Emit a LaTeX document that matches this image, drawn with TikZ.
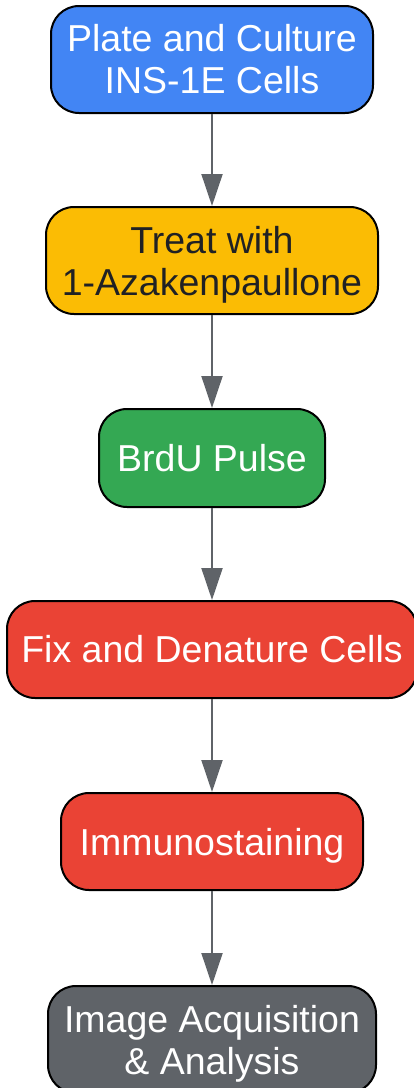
\documentclass[tikz,border=0pt]{standalone}
\usepackage{fontspec}
\setmainfont{Liberation Sans}
\usetikzlibrary{arrows.meta}
\definecolor{gblue}{HTML}{4285F4}
\definecolor{gyellow}{HTML}{FBBC04}
\definecolor{ggreen}{HTML}{34A853}
\definecolor{gred}{HTML}{EA4335}
\definecolor{ggray}{HTML}{5F6368}
\definecolor{gdark}{HTML}{202124}
\tikzset{
  stepbox/.style={draw=black, line width=2pt, rounded corners=28pt, inner sep=0pt,
    align=center, font=\fontsize{37.5}{42}\selectfont, text=white},
  flowarrow/.style={draw=ggray, line width=2pt, -{Triangle[length=32pt,width=21pt]}}
}
\begin{document}
\begin{tikzpicture}[x=1pt,y=-1pt]
\useasboundingbox (0,0) rectangle (414,1088);
\clip (0,0) rectangle (414,1088);
\node[stepbox, fill=gblue, minimum width=322pt, minimum height=107pt] (a) at (212,59.5) {Plate and Culture\\INS-1E Cells};
\node[stepbox, fill=gyellow, text=gdark, minimum width=332pt, minimum height=107pt] (b) at (212,260.5) {Treat with\\\smash{1-Azakenpaullone}};
\node[stepbox, fill=ggreen, minimum width=226pt, minimum height=98pt] (c) at (212,458) {BrdU Pulse};
\node[stepbox, fill=gred, minimum width=410pt, minimum height=97pt] (d) at (212,649.5) {Fix and Denature Cells};
\node[stepbox, fill=gred, minimum width=302pt, minimum height=97pt] (e) at (212,841.5) {\smash{Immunostaining}\vphantom{l}};
\node[stepbox, fill=ggray, minimum width=328pt, minimum height=107pt] (f) at (212,1039.5) {Image Acquisition\\\smash{\& Analysis}};
\draw[flowarrow] (a) -- (b);
\draw[flowarrow] (b) -- (c);
\draw[flowarrow] (c) -- (d);
\draw[flowarrow] (d) -- (e);
\draw[flowarrow] (e) -- (f);
\end{tikzpicture}
\end{document}
